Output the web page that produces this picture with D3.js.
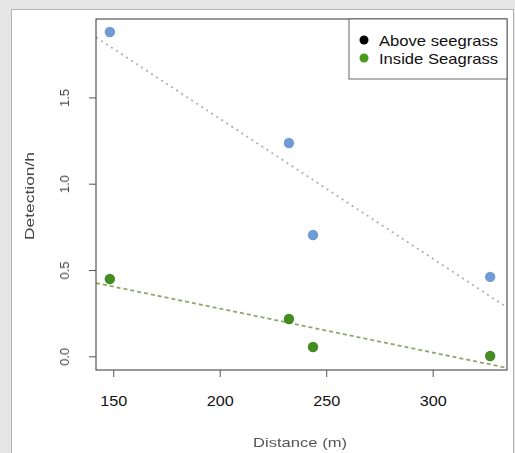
<!DOCTYPE html>
<html>
<head>
<meta charset="utf-8">
<script src="https://cdn.jsdelivr.net/npm/d3@7"></script>
<style>
  html, body { margin: 0; padding: 0; background: #e6e6e6; }
  svg { display: block; font-family: "Liberation Sans", Arial, sans-serif; }
</style>
</head>
<body>
<svg id="chart" width="515" height="453"></svg>
<script>
// Distance from shore (m) for each sampling site
const distance = [148.4, 232.5, 243.8, 327.0];
// Detections per hour at each site
const aboveSeagrass = [1.879, 1.236, 0.703, 0.460];
const insideSeagrass = [0.448, 0.216, 0.054, 0.002];
const xTicks = [150, 200, 250, 300];
const yTicks = [0.0, 0.5, 1.0, 1.5];
const legendLabels = ["Above seegrass", "Inside Seagrass"];

const svg = d3.select("#chart");

const defs = svg.append("defs");
defs.append("filter").attr("id", "soft")
  .append("feGaussianBlur").attr("stdDeviation", 0.6);
defs.append("filter").attr("id", "softer")
  .append("feGaussianBlur").attr("stdDeviation", 0.5);

// white panel
svg.append("rect")
  .attr("x", 11.5).attr("y", 9.5)
  .attr("width", 502).attr("height", 450)
  .attr("fill", "#ffffff").attr("stroke", "#b4b4b4");

const box = { left: 96, top: 19, right: 507, bottom: 370 };

const x = d3.scaleLinear()
  .domain([141.9, 334.9])
  .range([box.left, box.right]);
const y = d3.scaleLinear()
  .domain([(356.3 - 370) / 172.6, (356.3 - 19) / 172.6])
  .range([box.bottom, box.top]);

const plot = svg.append("g");

// least-squares fit lines
function fit(xs, ys) {
  const mx = d3.mean(xs), my = d3.mean(ys);
  let sxy = 0, sxx = 0;
  xs.forEach((v, i) => { sxy += (v - mx) * (ys[i] - my); sxx += (v - mx) * (v - mx); });
  const b = sxy / sxx;
  return { a: my - b * mx, b };
}
defs.append("clipPath").attr("id", "plotclip")
  .append("rect").attr("x", box.left).attr("y", box.top)
  .attr("width", box.right - box.left).attr("height", box.bottom - box.top);

const series = [
  { vals: aboveSeagrass, point: "#6f9bd4", line: "#a6b2c0", dash: "2,4" },
  { vals: insideSeagrass, point: "#438c24", line: "#8fa86a", dash: "4,3" }
];

const lineLayer = plot.append("g").attr("clip-path", "url(#plotclip)")
  .append("g").attr("filter", "url(#soft)");
series.forEach(s => {
  const f = fit(distance, s.vals);
  const x0 = x.domain()[0], x1 = x.domain()[1];
  lineLayer.append("line")
    .attr("x1", x(x0)).attr("y1", y(f.a + f.b * x0))
    .attr("x2", x(x1)).attr("y2", y(f.a + f.b * x1))
    .attr("stroke", s.line).attr("stroke-width", 1.8)
    .attr("stroke-dasharray", s.dash);
});

const pointLayer = plot.append("g").attr("filter", "url(#soft)");
series.forEach(s => {
  pointLayer.selectAll(null).data(s.vals).enter().append("circle")
    .attr("cx", (d, i) => x(distance[i]))
    .attr("cy", d => y(d))
    .attr("r", 5.2)
    .attr("fill", s.point);
});

// plot box
svg.append("rect")
  .attr("x", box.left).attr("y", box.top)
  .attr("width", box.right - box.left).attr("height", box.bottom - box.top)
  .attr("fill", "none").attr("stroke", "#333").attr("stroke-width", 1);

// x axis
const xAxis = svg.append("g")
  .attr("transform", `translate(0,${box.bottom})`)
  .call(d3.axisBottom(x).tickValues(xTicks).tickSize(7).tickPadding(18).tickFormat(d3.format("d")));
xAxis.select(".domain").remove();
xAxis.selectAll("line").attr("stroke", "#555");
xAxis.selectAll("text").attr("font-size", 15).attr("fill", "#111")
  .attr("font-family", "Liberation Sans, Arial, sans-serif")
  .attr("textLength", 27).attr("lengthAdjust", "spacingAndGlyphs");

// y axis with rotated labels
const yAxis = svg.append("g")
  .attr("transform", `translate(${box.left},0)`)
  .call(d3.axisLeft(y).tickValues(yTicks).tickSize(7).tickFormat(d3.format(".1f")));
yAxis.select(".domain").remove();
yAxis.selectAll("line").attr("stroke", "#555");
yAxis.selectAll("text")
  .attr("font-size", 13).attr("fill", "#444")
  .attr("font-family", "Liberation Sans, Arial, sans-serif")
  .attr("text-anchor", "middle").attr("dy", null)
  .attr("x", null)
  .attr("transform", "translate(-32,0) rotate(-90)")
  .attr("dominant-baseline", "central")
  .attr("filter", "url(#soft)");

// axis titles
svg.append("text")
  .attr("x", 300).attr("y", 447)
  .attr("text-anchor", "middle").attr("font-size", 13).attr("fill", "#555")
  .attr("textLength", 94).attr("lengthAdjust", "spacingAndGlyphs")
  .attr("filter", "url(#softer)")
  .text("Distance (m)");
svg.append("text")
  .attr("transform", `translate(29,196) rotate(-90)`)
  .attr("text-anchor", "middle").attr("dominant-baseline", "central")
  .attr("font-size", 13).attr("fill", "#444")
  .attr("textLength", 88).attr("lengthAdjust", "spacingAndGlyphs")
  .attr("filter", "url(#softer)")
  .text("Detection/h");

// legend
const lg = svg.append("g");
lg.append("rect")
  .attr("x", 349).attr("y", box.top)
  .attr("width", box.right - 349).attr("height", 60)
  .attr("fill", "#fff").attr("stroke", "#666");
const legendColors = ["#000000", "#4a9a1c"];
const legendWidths = [119, 119];
legendLabels.forEach((t, i) => {
  const cy = 40 + i * 18;
  lg.append("circle").attr("cx", 364).attr("cy", cy).attr("r", 4.5).attr("fill", legendColors[i]);
  lg.append("text").attr("x", 379).attr("y", cy).attr("dominant-baseline", "central")
    .attr("font-size", 15).attr("fill", "#111")
    .attr("textLength", legendWidths[i]).attr("lengthAdjust", "spacingAndGlyphs")
    .text(t);
});
</script>
</body>
</html>
